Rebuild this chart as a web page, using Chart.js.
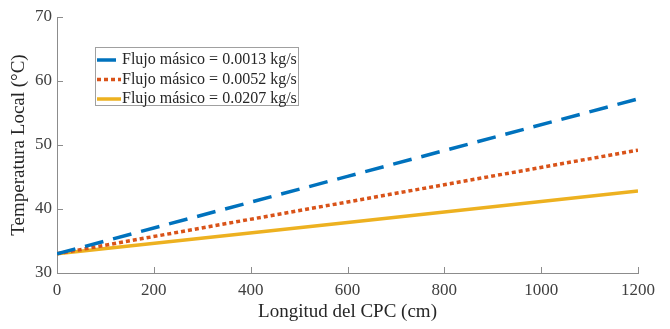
<!DOCTYPE html>
<html>
<head>
<meta charset="utf-8">
<script src="https://cdn.jsdelivr.net/npm/chart.js@4/dist/chart.umd.min.js"></script>
<style>
  html, body { margin: 0; padding: 0; background: #fff; }
  #wrap { width: 670px; height: 329px; }
</style>
</head>
<body>
<div id="wrap"><canvas id="grafico" width="670" height="329"></canvas></div>
<script>
// longitud del CPC (cm)
const longitud = [0, 600, 1200];
// temperatura local (°C) por flujo másico
const tempFlujo1 = [33.0, 45.1, 57.2];
const tempFlujo2 = [33.0, 41.1, 49.2];
const tempFlujo3 = [33.0, 37.9, 42.8];
const etiquetas = ['Flujo másico = 0.0013 kg/s', 'Flujo másico = 0.0052 kg/s', 'Flujo másico = 0.0207 kg/s'];
const ticksX = [0, 200, 400, 600, 800, 1000, 1200];
const ticksY = [30, 40, 50, 60, 70];

const fuente = '"Liberation Serif", "Times New Roman", serif';

function puntos(ys) {
    return longitud.map((x, i) => ({ x: x, y: ys[i] }));
}

// marcas hacia dentro, como en matlab
const marcasInternas = {
    id: 'marcasInternas',
    afterDatasetsDraw(chart) {
        const ctx = chart.ctx;
        const a = chart.chartArea;
        const sx = chart.scales.x, sy = chart.scales.y;
        ctx.save();
        ctx.strokeStyle = '#8c8c8c';
        ctx.lineWidth = 1;
        ctx.beginPath();
        ticksX.forEach(v => {
            const px = Math.round(sx.getPixelForValue(v)) + 0.5;
            ctx.moveTo(px, a.bottom);
            ctx.lineTo(px, a.bottom - 6);
        });
        ticksY.forEach(v => {
            const py = Math.round(sy.getPixelForValue(v)) + 0.5;
            ctx.moveTo(a.left, py);
            ctx.lineTo(a.left + 6, py);
        });
        ctx.stroke();
        ctx.restore();
    }
};

// leyenda dentro del area del grafico
const leyendaCaja = {
    id: 'leyendaCaja',
    afterDatasetsDraw(chart) {
        const ctx = chart.ctx;
        const x0 = 95, y0 = 47, w = 203, h = 58;
        ctx.save();
        ctx.fillStyle = '#fff';
        ctx.fillRect(x0, y0, w, h);
        ctx.strokeStyle = '#a0a0a0';
        ctx.lineWidth = 1;
        ctx.strokeRect(x0 + 0.5, y0 + 0.5, w, h);
        chart.data.datasets.forEach((ds, i) => {
            const y = y0 + 13 + i * 19.5;
            ctx.strokeStyle = ds.borderColor;
            ctx.lineWidth = ds.borderWidth;
            ctx.setLineDash(ds.borderDash || []);
            ctx.beginPath();
            ctx.moveTo(x0 + 2, y);
            ctx.lineTo(x0 + 26, y);
            ctx.stroke();
            ctx.setLineDash([]);
            ctx.fillStyle = '#262626';
            ctx.font = '16px ' + fuente;
            ctx.textBaseline = 'middle';
            ctx.fillText(ds.label, x0 + 27, y);
        });
        ctx.restore();
    }
};

new Chart(document.getElementById('grafico').getContext('2d'), {
    type: 'line',
    data: {
        datasets: [
            {
                label: etiquetas[0],
                data: puntos(tempFlujo1),
                borderColor: '#0072BD',
                borderWidth: 3.5,
                borderDash: [19, 10],
                pointRadius: 0,
                fill: false
            },
            {
                label: etiquetas[1],
                data: puntos(tempFlujo2),
                borderColor: '#D95319',
                borderWidth: 3.5,
                borderDash: [4, 3],
                pointRadius: 0,
                fill: false
            },
            {
                label: etiquetas[2],
                data: puntos(tempFlujo3),
                borderColor: '#EDB120',
                borderWidth: 3.5,
                pointRadius: 0,
                fill: false
            }
        ]
    },
    options: {
        responsive: false,
        animation: false,
        layout: { padding: { left: 0, right: 32, top: 17, bottom: 0 } },
        plugins: {
            legend: { display: false },
            tooltip: { enabled: false }
        },
        scales: {
            x: {
                type: 'linear',
                min: 0,
                max: 1200,
                afterBuildTicks: s => { s.ticks = ticksX.map(v => ({ value: v })); },
                afterFit: s => { s.height = 56; },
                grid: { display: false, drawTicks: false },
                border: { display: true, color: '#8c8c8c', width: 1 },
                ticks: { color: '#404040', font: { family: fuente, size: 17 }, padding: 7, maxRotation: 0, callback: v => String(v) },
                title: { display: true, text: 'Longitud del CPC (cm)', color: '#262626', font: { family: fuente, size: 19 }, padding: { top: 0, bottom: 6 } }
            },
            y: {
                min: 30,
                max: 70,
                afterBuildTicks: s => { s.ticks = ticksY.map(v => ({ value: v })); },
                afterFit: s => { s.width = 57; },
                grid: { display: false, drawTicks: false },
                border: { display: true, color: '#8c8c8c', width: 1 },
                ticks: { color: '#404040', font: { family: fuente, size: 17 }, padding: 5, callback: v => String(v) },
                title: { display: true, text: 'Temperatura Local (°C)', color: '#262626', font: { family: fuente, size: 19 }, padding: { top: 8, bottom: 0 } }
            }
        }
    },
    plugins: [marcasInternas, leyendaCaja]
});
</script>
</body>
</html>
